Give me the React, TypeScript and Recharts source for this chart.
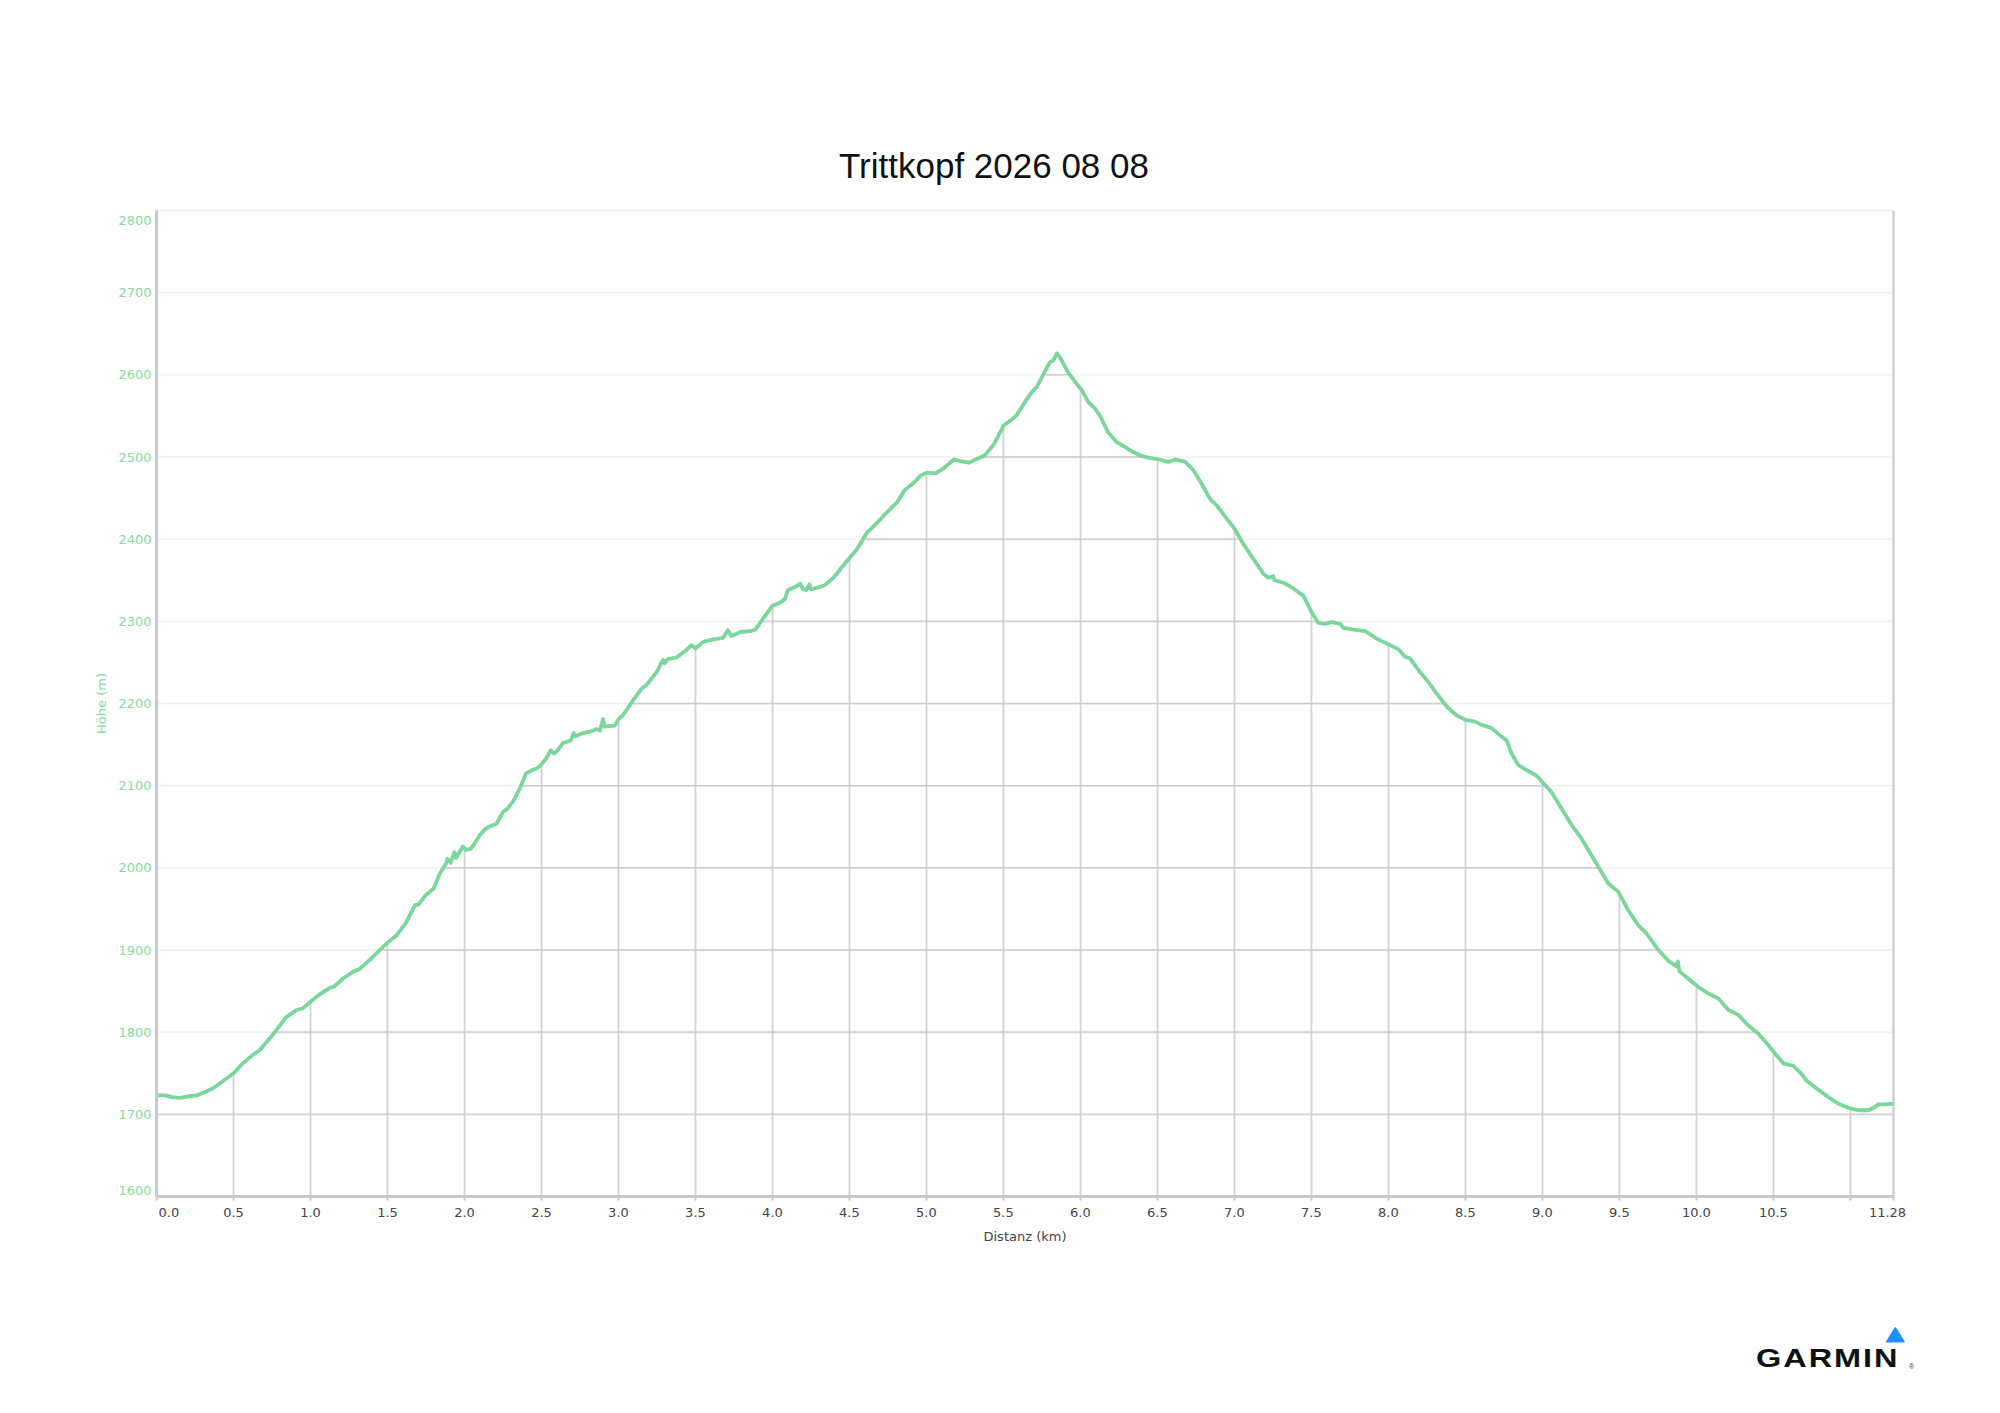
import React from "react";
import {
  ComposedChart,
  Line,
  Area,
  XAxis,
  YAxis,
  CartesianGrid,
  ReferenceLine,
  Label,
} from "recharts";

// ---------- data ----------
const distanceKm = [
  0.0, 0.06, 0.1, 0.15, 0.21, 0.26, 0.3, 0.37, 0.45, 0.5, 0.56, 0.63, 0.67, 0.76, 0.84, 0.91, 0.95,
  1.0, 1.06, 1.125, 1.15, 1.21, 1.28, 1.32, 1.385, 1.45, 1.5, 1.56, 1.62, 1.68, 1.7, 1.75, 1.8, 1.84,
  1.88, 1.89, 1.91, 1.935, 1.945, 1.99, 2.01, 2.04, 2.06, 2.1, 2.14, 2.17, 2.21, 2.25, 2.28, 2.32,
  2.36, 2.4, 2.44, 2.47, 2.5, 2.53, 2.56, 2.58, 2.6, 2.64, 2.69, 2.71, 2.72, 2.77, 2.82,
  2.857, 2.88, 2.9, 2.91, 2.976, 3.0, 3.03, 3.095, 3.15, 3.18, 3.247, 3.29, 3.3, 3.32, 3.377, 3.44,
  3.475, 3.5, 3.55, 3.616, 3.68, 3.71, 3.735, 3.79, 3.855, 3.89, 3.93, 4.0, 4.05, 4.08, 4.1, 4.15,
  4.18, 4.2, 4.22, 4.24, 4.25, 4.27, 4.31, 4.34, 4.4, 4.46, 4.5, 4.55, 4.61, 4.68, 4.74, 4.81, 4.86,
  4.92, 4.96, 5.0, 5.06, 5.11, 5.18, 5.22, 5.275, 5.33, 5.38, 5.44, 5.5,
  5.543, 5.587, 5.64, 5.684, 5.716, 5.76, 5.8, 5.825, 5.846, 5.868, 5.92, 5.976, 6.01, 6.05, 6.095,
  6.13, 6.18, 6.236, 6.29, 6.344, 6.4, 6.45, 6.509, 6.57, 6.615, 6.68, 6.734, 6.788, 6.842, 6.885,
  6.95, 7.0, 7.058, 7.123, 7.188, 7.22, 7.253, 7.26, 7.318, 7.383, 7.448, 7.502, 7.545, 7.589, 7.63,
  7.686, 7.708, 7.773, 7.849, 7.924, 8.0, 8.065, 8.108, 8.14, 8.206, 8.26, 8.314, 8.38, 8.44, 8.5,
  8.563, 8.606, 8.67, 8.714, 8.768, 8.8, 8.844, 8.898, 8.963, 9.006, 9.06, 9.125, 9.19, 9.245, 9.3,
  9.364, 9.428, 9.493, 9.558, 9.623, 9.677, 9.753, 9.818, 9.87, 9.88, 9.89, 9.948, 10.013, 10.078,
  10.143, 10.208, 10.273, 10.338, 10.403, 10.468, 10.51, 10.565, 10.63, 10.684, 10.716, 10.792,
  10.857, 10.922, 10.987, 11.05, 11.117, 11.16, 11.18, 11.225, 11.28,
];

const elevationM = [
  1723, 1723, 1721, 1720, 1722, 1723, 1726, 1732, 1743, 1750, 1762, 1773, 1778, 1798, 1818, 1827, 1829,
  1837, 1846, 1854, 1855, 1865, 1874, 1877, 1888, 1900, 1909, 1918, 1933, 1955, 1955, 1967, 1975, 1993,
  2005, 2011, 2006, 2019, 2012, 2026, 2022, 2023, 2028, 2040, 2048, 2051, 2054, 2068, 2072, 2082,
  2097, 2115, 2119, 2121, 2126, 2133, 2143, 2139, 2142, 2152, 2155, 2164, 2160, 2164, 2166,
  2169, 2167, 2181, 2172, 2173, 2181, 2186, 2204, 2218, 2222, 2238, 2253, 2249, 2254, 2256, 2265,
  2271, 2267, 2275, 2278, 2280, 2289, 2282, 2287, 2288, 2290, 2301, 2319, 2323, 2327, 2338, 2342,
  2346, 2339, 2338, 2345, 2339, 2340, 2342, 2344, 2354, 2368, 2377, 2388, 2407, 2420, 2432, 2445, 2460,
  2469, 2477, 2481, 2480, 2486, 2497, 2495, 2493, 2498, 2502, 2516, 2538,
  2544, 2551, 2567, 2579, 2585, 2601, 2615, 2618, 2626, 2621, 2603, 2589, 2581, 2567, 2559,
  2549, 2530, 2518, 2512, 2506, 2501, 2499, 2497, 2494, 2497, 2494, 2484, 2467, 2449, 2441,
  2425, 2413, 2394, 2376, 2358, 2353, 2355, 2350, 2347, 2340, 2331, 2311, 2298, 2297, 2299,
  2297, 2292, 2290, 2288, 2279, 2272, 2266, 2257, 2255, 2238, 2226, 2212, 2196, 2186, 2180,
  2178, 2174, 2170, 2163, 2155, 2139, 2125, 2119, 2112, 2103, 2092, 2072, 2052, 2038, 2021,
  2001, 1981, 1971, 1948, 1930, 1920, 1900, 1887, 1880, 1886, 1874, 1865, 1855, 1847,
  1841, 1827, 1821, 1808, 1798, 1784, 1774, 1762, 1759, 1749, 1741, 1730,
  1721, 1713, 1708, 1705, 1705, 1709, 1712, 1712, 1713,
];

const xTicks = [0, 0.5, 1, 1.5, 2, 2.5, 3, 3.5, 4, 4.5, 5, 5.5, 6, 6.5, 7, 7.5, 8, 8.5, 9, 9.5, 10, 10.5, 11, 11.28];
const xTickLabels = ["0.0", "0.5", "1.0", "1.5", "2.0", "2.5", "3.0", "3.5", "4.0", "4.5", "5.0", "5.5", "6.0", "6.5", "7.0", "7.5", "8.0", "8.5", "9.0", "9.5", "10.0", "10.5", "", "11.28"];
const yTicks = [1600, 1700, 1800, 1900, 2000, 2100, 2200, 2300, 2400, 2500, 2600, 2700, 2800];

const title = "Trittkopf 2026 08 08";
const xTitle = "Distanz (km)";
const yTitle = "Höhe (m)";

const data = distanceKm.map((km, i) => ({ km, elev: elevationM[i] }));

// ---------- layout ----------
const W = 2000;
const H = 1413;
const Y_AXIS_W = 60;
const X_AXIS_H = 50;
const margin = { top: 210.5, right: 106.5, bottom: 166.5, left: 96.5 };
const plotLeft = margin.left + Y_AXIS_W;
const plotTop = margin.top;
const plotW = W - plotLeft - margin.right;
const plotH = H - plotTop - margin.bottom - X_AXIS_H;
const xDomain: [number, number] = [0, 11.28];
const yDomain: [number, number] = [1600, 2800];
const xStep = 0.5;
const yStep = 100;
const cellW = plotW / ((xDomain[1] - xDomain[0]) / xStep);
const cellH = plotH / ((yDomain[1] - yDomain[0]) / yStep);

const GREEN = "#7bd69a";
const LABEL_GREEN = "#84dba0";
const GRID_DARK = "#c9c9c9";
const FONT = "'DejaVu Sans', Verdana, sans-serif";

const YTick = (props: any) => {
  const { x, y, payload } = props;
  let dy = 0;
  if (payload.value === yDomain[1]) dy = 9.5;
  if (payload.value === yDomain[0]) dy = -6.5;
  return (
    <text x={x} y={y + dy} textAnchor="end" dominantBaseline="central" fill={LABEL_GREEN} fontSize={13} fontFamily={FONT}>
      {payload.value}
    </text>
  );
};

const XTick = (props: any) => {
  const { x, y, payload } = props;
  const idx = xTicks.indexOf(payload.value);
  const label = idx >= 0 ? xTickLabels[idx] : String(payload.value);
  if (!label) return <g />;
  let anchor: "start" | "middle" | "end" = "middle";
  let dx = 0;
  if (idx === 0) {
    anchor = "start";
    dx = 2;
  } else if (idx === xTicks.length - 1) {
    dx = -6;
  }
  return (
    <text x={x + dx} y={y} textAnchor={anchor} dominantBaseline="central" fill="#444" fontSize={13} fontFamily={FONT}>
      {label}
    </text>
  );
};

const YTitle = (props: any) => {
  const vb = props.viewBox || {};
  const cx = vb.x + 4.5;
  const cy = vb.y + vb.height / 2;
  return (
    <text
      x={cx}
      y={cy}
      transform={`rotate(-90 ${cx} ${cy})`}
      textAnchor="middle"
      dominantBaseline="central"
      fill={LABEL_GREEN}
      fontSize={13}
      fontFamily={FONT}
    >
      {yTitle}
    </text>
  );
};

const XTitle = (props: any) => {
  const vb = props.viewBox || {};
  const cx = vb.x + vb.width / 2;
  const cy = vb.y + vb.height - 10;
  return (
    <text x={cx} y={cy} textAnchor="middle" dominantBaseline="central" fill="#444" fontSize={13} fontFamily={FONT}>
      {xTitle}
    </text>
  );
};

export default function App() {
  return (
    <div style={{ position: "relative", width: W, height: H, background: "#fff" }}>
      <style>{`body{margin:0;background:#fff}`}</style>
      <ComposedChart width={W} height={H} data={data} margin={margin}>
        <defs>
          <pattern
            id="underGrid"
            patternUnits="userSpaceOnUse"
            x={plotLeft - 0.75}
            y={plotTop - 0.75}
            width={cellW}
            height={cellH}
          >
            <rect x={0} y={0} width={1.5} height={cellH} fill={GRID_DARK} />
            <rect x={0} y={0} width={cellW} height={1.5} fill={GRID_DARK} />
          </pattern>
        </defs>
        <CartesianGrid vertical={false} stroke="#efefef" strokeWidth={1.4} />
        <XAxis
          type="number"
          dataKey="km"
          domain={xDomain}
          ticks={xTicks}
          interval={0}
          height={X_AXIS_H}
          axisLine={{ stroke: GRID_DARK, strokeWidth: 3 }}
          tickLine={{ stroke: GRID_DARK, strokeWidth: 2 }}
          tickSize={4}
          tickMargin={12}
          tick={<XTick />}
          allowDataOverflow
        >
          <Label content={<XTitle />} />
        </XAxis>
        <YAxis
          type="number"
          domain={yDomain}
          ticks={yTicks}
          interval={0}
          width={Y_AXIS_W}
          axisLine={{ stroke: GRID_DARK, strokeWidth: 3 }}
          tickLine={false}
          tickSize={0}
          tickMargin={5}
          tick={<YTick />}
          allowDataOverflow
        >
          <Label content={<YTitle />} />
        </YAxis>
        <Area
          type="linear"
          dataKey="elev"
          stroke="none"
          fill="url(#underGrid)"
          fillOpacity={1}
          isAnimationActive={false}
          activeDot={false}
        />
        <ReferenceLine x={xDomain[1]} stroke="#d2d2d2" strokeWidth={2.5} />
        <Line
          type="linear"
          dataKey="elev"
          stroke={GREEN}
          strokeWidth={3.8}
          strokeLinejoin="round"
          strokeLinecap="round"
          dot={false}
          activeDot={false}
          isAnimationActive={false}
        />
      </ComposedChart>
      <svg
        width={W}
        height={H}
        style={{ position: "absolute", left: 0, top: 0, pointerEvents: "none" }}
      >
        <text x={994} y={178} textAnchor="middle" fontSize={35} fill="#111" fontFamily="'Liberation Sans', Arial, sans-serif">
          {title}
        </text>
        <g>
          <text
            x={1756}
            y={1367}
            fontSize={25}
            fontWeight="bold"
            fill="#111"
            letterSpacing={1.5}
            fontFamily="'Liberation Sans', Arial, sans-serif"
            transform="translate(1756 1367) scale(1.3 1) translate(-1756 -1367)"
          >
            GARMIN
          </text>
          <path d="M1895.3 1328 L1904 1341.7 L1886.7 1341.7 Z" fill="#1e90ff" stroke="#1e90ff" strokeWidth={1.5} strokeLinejoin="round" />
          <text x={1909} y={1369} fontSize={7} fill="#333" fontFamily="'Liberation Sans', Arial, sans-serif">®</text>
        </g>
      </svg>
    </div>
  );
}
